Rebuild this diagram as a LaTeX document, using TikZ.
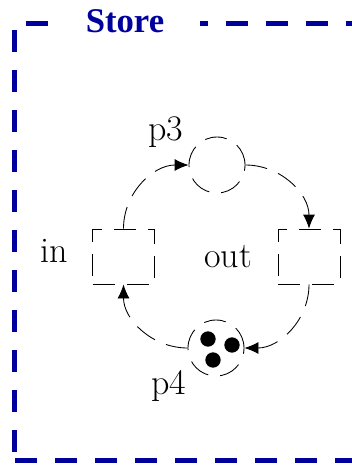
\documentclass[tikz,border=0pt]{standalone}
\usepackage{fontspec}
\usepackage{tikz}
\usetikzlibrary{arrows.meta}
\newfontfamily\storefont{Liberation Serif}
\definecolor{storeblue}{HTML}{00009C}
\tikzset{
  storeframe/.style = {draw=storeblue, line width=3.75pt,
                       dash pattern=on 16.5pt off 13.5pt},
  storelabel/.style = {font=\storefont\bfseries\fontsize{26}{30}\selectfont,
                       text=storeblue, fill=white, inner xsep=27pt,
                       inner ysep=2pt},
  netline/.style    = {draw=black, line width=0.65pt,
                       dash pattern=on 16.5pt off 9pt},
  place/.style      = {circle, netline, minimum size=42pt, inner sep=0pt},
  trans/.style      = {rectangle, netline, minimum width=46.5pt,
                       minimum height=41.25pt, inner sep=0pt},
  token/.style      = {circle, fill=black, minimum size=11.5pt, inner sep=0pt},
  netarc/.style     = {netline, -{Latex[length=10.5pt, width=9pt]}},
  netlabel/.style   = {font=\fontsize{27}{32}\selectfont, inner sep=2pt},
}

\begin{document}
\begin{tikzpicture}[x=0.75pt, y=-0.75pt]
  \useasboundingbox (0,0) rectangle (351,465);
  % component frame, open to the right
  \coordinate (tl) at (14.5,23);   \coordinate (tr) at (380,23);
  \coordinate (bl) at (14.5,460);  \coordinate (br) at (380,460);
  \foreach \a/\b/\ph in {tl/tr/21.4pt, tl/bl/24.75pt, bl/br/29.6pt}
    {\draw[storeframe, dash phase=\ph] (\a) -- (\b);}
  \node[storelabel] (store) at (125,21.5) {Store};
  % places and transitions
  \node[place] (p3)   at (217,165)     {};
  \node[place] (p4)   at (216,348)     {};
  \node[trans] (tin)  at (123.5,256.5) {};
  \node[trans] (tout) at (309,256.5)   {};
  \node[token] (k1) at (208,339) {};
  \node[token] (k2) at (232,345) {};
  \node[token] (k3) at (213,360) {};
  \node[netlabel] (lp3)  at (165.5,132) {p3};
  \node[netlabel] (lp4)  at (169,386)   {p4};
  \node[netlabel] (lin)  at (54.5,251)  {in};
  \node[netlabel] (lout) at (228,257)   {out};
  % arcs
  \draw[netarc] (tin.north)  to[out=90,  in=180] (p3.west);
  \draw[netarc] (p3.east)    to[out=0,   in=90]  (tout.north);
  \draw[netarc] (tout.south) to[out=-90, in=0]   (p4.east);
  \draw[netarc] (p4.west)    to[out=180, in=-90] (tin.south);
\end{tikzpicture}
\end{document}
